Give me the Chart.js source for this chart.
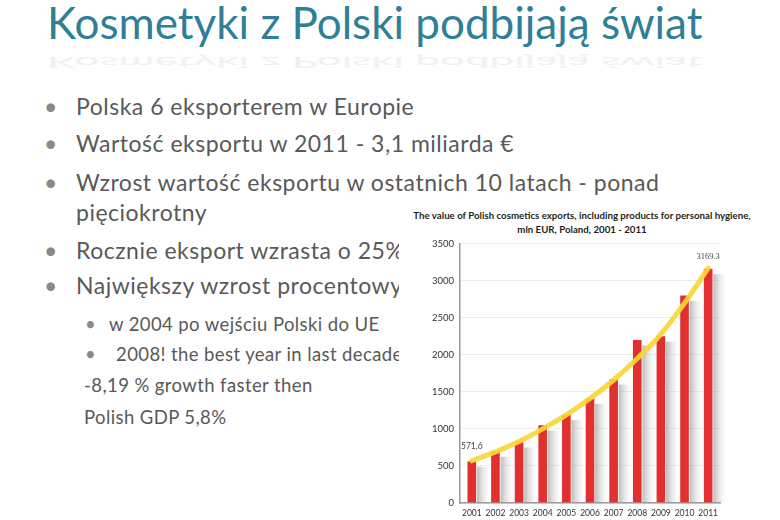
<!DOCTYPE html>
<html lang="pl">
<head>
<meta charset="utf-8">
<title>Kosmetyki z Polski podbijają świat</title>
<script src="https://cdn.jsdelivr.net/npm/chart.js@4.4.1/dist/chart.umd.min.js"></script>
<style>
  html, body { margin: 0; padding: 0; background: #fff; }
  body { width: 780px; height: 520px; position: relative; overflow: hidden; font-family: Lato, sans-serif; }
  .t { position: absolute; white-space: nowrap; }
  #title { left: 47px; top: -3px; font-size: 44px; line-height: 50px; color: #2F7F98; }
  #mirror { left: 47px; top: 72px; font-size: 44px; line-height: 50px; color: rgba(110,125,140,0.13);
            transform-origin: 0 0; transform: matrix(1,0,0,-0.36,0,0); filter: blur(0.9px); }
  .b { color: #595959; font-size: 23px; line-height: 23px; letter-spacing: 0.5px; }
  .s { color: #595959; font-size: 18.5px; line-height: 18.5px; letter-spacing: 0.4px; }
  .dot { color: #8a8a8a; letter-spacing: 0; }
  #panel { position: absolute; left: 399px; top: 205px; width: 381px; height: 315px; background: #fff; }
  #ctitle { position: absolute; left: 0; width: 366px; top: 3px; text-align: center; font: bold 9.7px/14px Lato, sans-serif; color: #231f20; }
  #wrap { position: absolute; left: 1px; top: 27px; width: 380px; height: 288px; }
</style>
</head>
<body>
<div class="t" id="title">Kosmetyki z Polski podbijają świat</div>
<div class="t" id="mirror">Kosmetyki z Polski podbijają świat</div>

<div class="t b dot" style="left:44px;top:95px">•</div>
<div class="t b" style="left:76px;top:95px">Polska 6 eksporterem w Europie</div>
<div class="t b dot" style="left:44px;top:132px">•</div>
<div class="t b" style="left:76px;top:132px">Wartość eksportu w 2011 - 3,1 miliarda €</div>
<div class="t b dot" style="left:44px;top:171px">•</div>
<div class="t b" style="left:76px;top:171px">Wzrost wartość eksportu w ostatnich 10 latach - ponad</div>
<div class="t b" style="left:76px;top:201px">pięciokrotny</div>
<div class="t b dot" style="left:44px;top:239px">•</div>
<div class="t b" style="left:76px;top:239px">Rocznie eksport wzrasta o 25%</div>
<div class="t b dot" style="left:44px;top:274px">•</div>
<div class="t b" style="left:76px;top:274px">Największy wzrost procentowy</div>
<div class="t s dot" style="left:85px;top:315px">•</div>
<div class="t s" style="left:109px;top:315px">w 2004 po wejściu Polski do UE</div>
<div class="t s dot" style="left:85px;top:345px">•</div>
<div class="t s" style="left:116px;top:345px">2008! the best year in last decade</div>
<div class="t s" style="left:84px;top:376px">-8,19 % growth faster then</div>
<div class="t s" style="left:84px;top:408px">Polish GDP 5,8%</div>

<div id="panel">
  <div id="ctitle">The value of Polish cosmetics exports, including products for personal hygiene,<br>mln EUR, Poland, 2001 - 2011</div>
  <div id="wrap"><canvas id="chart"></canvas></div>
</div>

<script>
  var YEARS = ['2001', '2002', '2003', '2004', '2005', '2006', '2007', '2008', '2009', '2010', '2011'];
  var EXPORTS = [571.6, 705, 830, 1060, 1200, 1420, 1680, 2210, 2260, 2810, 3169.3];
  var TREND = [570, 690, 830, 1000, 1190, 1410, 1660, 1950, 2280, 2700, 3170];
  var VALUE_LABELS = ['571,6', '', '', '', '', '', '', '', '', '', '3169.3'];
  var Y_TICKS = [0, 500, 1000, 1500, 2000, 2500, 3000, 3500];

  var RED = '#E1302F', YELLOW = 'rgba(250,214,58,0.92)', GRID = '#ececec', AXIS = '#9a9a9a';

  /* grey drop shadow to the right of every bar */
  var barShadow = {
    id: 'barShadow',
    beforeDatasetsDraw: function (chart) {
      var ctx = chart.ctx, meta = chart.getDatasetMeta(0);
      meta.data.forEach(function (bar) {
        var w = bar.width, x0 = bar.x + w / 2, x1 = x0 + w * 1.3;
        var g = ctx.createLinearGradient(x0, 0, x1, 0);
        g.addColorStop(0, 'rgba(140,140,140,0.6)');
        g.addColorStop(1, 'rgba(220,220,220,0)');
        ctx.save();
        ctx.fillStyle = g;
        ctx.fillRect(x0, bar.y + 6, x1 - x0, bar.base - bar.y - 6);
        ctx.restore();
      });
    }
  };

  /* first and last value written above the bars */
  var valueLabels = {
    id: 'valueLabels',
    afterDatasetsDraw: function (chart) {
      var ctx = chart.ctx, meta = chart.getDatasetMeta(0);
      ctx.save();
      ctx.textAlign = 'center';
      ctx.textBaseline = 'middle';
      meta.data.forEach(function (bar, i) {
        if (!VALUE_LABELS[i]) return;
        ctx.font = i === 0 ? '8.5px Lato, sans-serif' : '8.5px "Liberation Serif", serif';
        ctx.fillStyle = '#444';
        ctx.fillText(VALUE_LABELS[i], bar.x, bar.y - (i === 0 ? 14 : 11));
      });
      ctx.restore();
    }
  };

  new Chart(document.getElementById('chart'), {
    data: {
      labels: YEARS,
      datasets: [
        { type: 'bar', data: EXPORTS, backgroundColor: RED, borderColor: 'rgba(255,255,255,0.7)',
          borderWidth: 1, barThickness: 10, order: 1 },
        { type: 'line', data: TREND, borderColor: YELLOW, borderWidth: 5, tension: 0.4,
          pointRadius: 0, borderCapStyle: 'round', order: 0 }
      ]
    },
    options: {
      responsive: true, maintainAspectRatio: false, animation: false,
      layout: { padding: { left: 0, right: 60, top: 2, bottom: 0 } },
      plugins: { legend: { display: false }, tooltip: { enabled: false }, title: { display: false } },
      scales: {
        x: {
          afterFit: function (s) { s.height = 17; },
          grid: { display: false, drawTicks: false },
          border: { color: AXIS, width: 1.5 },
          ticks: { color: '#333', font: { family: 'Lato', size: 8.5 }, padding: 5, maxRotation: 0, autoSkip: false }
        },
        y: {
          min: 0, max: 3500,
          afterFit: function (s) { s.width = 60; },
          afterBuildTicks: function (s) { s.ticks = Y_TICKS.map(function (v) { return { value: v }; }); },
          grid: { color: GRID, drawTicks: false },
          border: { color: AXIS, width: 1.5 },
          ticks: { color: '#333', font: { family: 'Lato', size: 9.5 }, padding: 6,
                   callback: function (v) { return String(v); } }
        }
      }
    },
    plugins: [barShadow, valueLabels]
  });
</script>
</body>
</html>
